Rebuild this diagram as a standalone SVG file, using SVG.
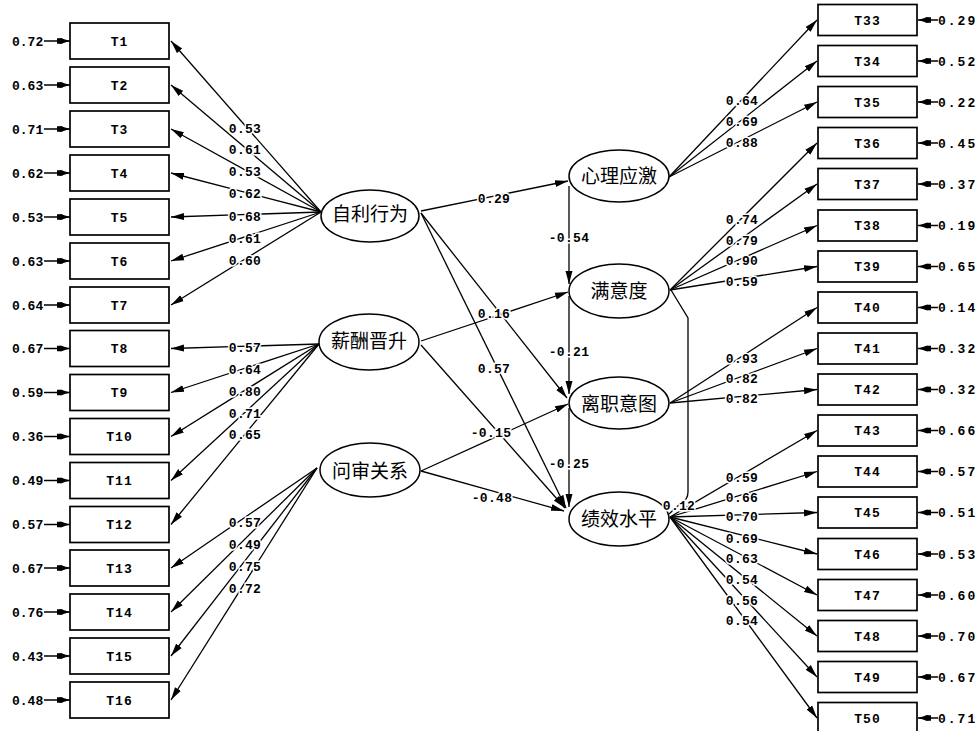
<svg xmlns="http://www.w3.org/2000/svg" width="979" height="731" viewBox="0 0 979 731">
<style>
.bx{fill:#fff;stroke:#000;stroke-width:1.7}
.el{fill:#fff;stroke:#000;stroke-width:1.5}
.t{font-family:"Liberation Mono",monospace;font-weight:bold;font-size:13px;fill:#000}
.bt{text-anchor:middle;letter-spacing:1px}
.er2{letter-spacing:2px}
.lab{text-anchor:middle;stroke:#fff;stroke-width:3;paint-order:stroke;letter-spacing:0.3px}
.cn{font-family:"Noto Sans CJK SC","Noto Sans CJK JP",sans-serif;font-size:19px;text-anchor:middle;fill:#000}
.ln{stroke:#000;stroke-width:1.3;fill:none}
.ar{marker-end:url(#ah)}
.ea{stroke:#000;stroke-width:1.5;fill:none;marker-end:url(#eh)}
</style>
<defs>
<marker id="ah" markerWidth="14" markerHeight="9" refX="13" refY="4.5" orient="auto" markerUnits="userSpaceOnUse"><path d="M0,1 L13,4.5 L0,8 z" fill="#000"/></marker>
<marker id="eh" markerWidth="14" markerHeight="8" refX="13" refY="4" orient="auto" markerUnits="userSpaceOnUse"><path d="M0,1.2 L4,1.2 L13,4 L4,6.8 L0,6.8 z" fill="#000"/><circle cx="4" cy="4" r="2.8" fill="#000"/></marker>
</defs>
<g id="connectors">
<!-- left error arrows -->
<path class="ea" d="M44,41H70"/><path class="ea" d="M44,85H70"/><path class="ea" d="M44,129H70"/><path class="ea" d="M44,173H70"/>
<path class="ea" d="M44,217H70"/><path class="ea" d="M44,261H70"/><path class="ea" d="M44,305H70"/><path class="ea" d="M44,348.5H70"/>
<path class="ea" d="M44,392.5H70"/><path class="ea" d="M44,436.5H70"/><path class="ea" d="M44,480.5H70"/><path class="ea" d="M44,524.5H70"/>
<path class="ea" d="M44,568H70"/><path class="ea" d="M44,612H70"/><path class="ea" d="M44,656H70"/><path class="ea" d="M44,700H70"/>
<!-- right error arrows -->
<path class="ea" d="M938,20H918"/><path class="ea" d="M938,61H918"/><path class="ea" d="M938,102H918"/><path class="ea" d="M938,143H918"/>
<path class="ea" d="M938,184H918"/><path class="ea" d="M938,225.5H918"/><path class="ea" d="M938,266.5H918"/><path class="ea" d="M938,307.5H918"/>
<path class="ea" d="M938,348.5H918"/><path class="ea" d="M938,389.5H918"/><path class="ea" d="M938,430.5H918"/><path class="ea" d="M938,471.5H918"/>
<path class="ea" d="M938,512.5H918"/><path class="ea" d="M938,554H918"/><path class="ea" d="M938,595H918"/><path class="ea" d="M938,636H918"/>
<path class="ea" d="M938,677H918"/><path class="ea" d="M938,718H918"/>
<!-- 自利行为 loadings -->
<path class="ln ar" d="M321,212L171,41"/>
<path class="ln ar" d="M321,212L171,85"/>
<path class="ln ar" d="M321,212L171,129"/>
<path class="ln ar" d="M321,212L171,173"/>
<path class="ln ar" d="M321,212L171,217"/>
<path class="ln ar" d="M321,212L171,261"/>
<path class="ln ar" d="M321,212L171,305"/>
<!-- 薪酬晋升 loadings -->
<path class="ln ar" d="M319,344L171,348.5"/>
<path class="ln ar" d="M319,344L171,392.5"/>
<path class="ln ar" d="M319,344L171,436.5"/>
<path class="ln ar" d="M319,344L171,480.5"/>
<path class="ln ar" d="M319,344L171,524.5"/>
<!-- 问审关系 loadings -->
<path class="ln ar" d="M317,468L171,568"/>
<path class="ln ar" d="M317,468L171,612"/>
<path class="ln ar" d="M317,468L171,656"/>
<path class="ln ar" d="M317,468L171,700"/>
<!-- 心理应激 loadings -->
<path class="ln ar" d="M669,177L817,20"/>
<path class="ln ar" d="M669,177L817,61"/>
<path class="ln ar" d="M669,177L817,102"/>
<!-- 满意度 loadings -->
<path class="ln ar" d="M670,290L817,143"/>
<path class="ln ar" d="M670,290L817,184"/>
<path class="ln ar" d="M670,290L817,225.5"/>
<path class="ln ar" d="M670,290L817,266.5"/>
<!-- 离职意图 loadings -->
<path class="ln ar" d="M670,403L817,307.5"/>
<path class="ln ar" d="M670,403L817,348.5"/>
<path class="ln ar" d="M670,403L817,389.5"/>
<!-- 绩效水平 loadings -->
<path class="ln ar" d="M670,517L817,430.5"/>
<path class="ln ar" d="M670,517L817,471.5"/>
<path class="ln ar" d="M670,517L817,512.5"/>
<path class="ln ar" d="M670,517L817,554"/>
<path class="ln ar" d="M670,517L817,595"/>
<path class="ln ar" d="M670,517L817,636"/>
<path class="ln ar" d="M670,517L817,677"/>
<path class="ln ar" d="M670,517L817,718"/>
<!-- structural paths -->
<path class="ln ar" d="M421,211L568,181"/>
<path class="ln ar" d="M421,341L568,292"/>
<path class="ln ar" d="M421,213L567,398"/>
<path class="ln ar" d="M421,213L566,508"/>
<path class="ln ar" d="M421,345L565,508"/>
<path class="ln ar" d="M421,471L568,404"/>
<path class="ln ar" d="M421,471L564,511"/>
<path class="ln ar" d="M569,186V284"/>
<path class="ln ar" d="M569,296V394"/>
<path class="ln ar" d="M569,408V507"/>
<!-- correlation -->
<path class="ln" d="M671,290L688,318V492Q688,500 681,503L669,514"/>
</g>
<g id="left-indicators">
<g id="T1"><rect class="bx" x="70" y="23" width="99" height="36"/><text class="t bt" x="119.5" y="45.5">T1</text><text class="t" x="12" y="45.5">0.72</text></g>
<g id="T2"><rect class="bx" x="70" y="67" width="99" height="36"/><text class="t bt" x="119.5" y="89.5">T2</text><text class="t" x="12" y="89.5">0.63</text></g>
<g id="T3"><rect class="bx" x="70" y="111" width="99" height="36"/><text class="t bt" x="119.5" y="133.5">T3</text><text class="t" x="12" y="133.5">0.71</text></g>
<g id="T4"><rect class="bx" x="70" y="155" width="99" height="36"/><text class="t bt" x="119.5" y="177.5">T4</text><text class="t" x="12" y="177.5">0.62</text></g>
<g id="T5"><rect class="bx" x="70" y="199" width="99" height="36"/><text class="t bt" x="119.5" y="221.5">T5</text><text class="t" x="12" y="221.5">0.53</text></g>
<g id="T6"><rect class="bx" x="70" y="243" width="99" height="36"/><text class="t bt" x="119.5" y="265.5">T6</text><text class="t" x="12" y="265.5">0.63</text></g>
<g id="T7"><rect class="bx" x="70" y="287" width="99" height="36"/><text class="t bt" x="119.5" y="309.5">T7</text><text class="t" x="12" y="309.5">0.64</text></g>
<g id="T8"><rect class="bx" x="70" y="330.5" width="99" height="36"/><text class="t bt" x="119.5" y="353">T8</text><text class="t" x="12" y="353">0.67</text></g>
<g id="T9"><rect class="bx" x="70" y="374.5" width="99" height="36"/><text class="t bt" x="119.5" y="397">T9</text><text class="t" x="12" y="397">0.59</text></g>
<g id="T10"><rect class="bx" x="70" y="418.5" width="99" height="36"/><text class="t bt" x="119.5" y="441">T10</text><text class="t" x="12" y="441">0.36</text></g>
<g id="T11"><rect class="bx" x="70" y="462.5" width="99" height="36"/><text class="t bt" x="119.5" y="485">T11</text><text class="t" x="12" y="485">0.49</text></g>
<g id="T12"><rect class="bx" x="70" y="506.5" width="99" height="36"/><text class="t bt" x="119.5" y="529">T12</text><text class="t" x="12" y="529">0.57</text></g>
<g id="T13"><rect class="bx" x="70" y="550" width="99" height="36"/><text class="t bt" x="119.5" y="572.5">T13</text><text class="t" x="12" y="572.5">0.67</text></g>
<g id="T14"><rect class="bx" x="70" y="594" width="99" height="36"/><text class="t bt" x="119.5" y="616.5">T14</text><text class="t" x="12" y="616.5">0.76</text></g>
<g id="T15"><rect class="bx" x="70" y="638" width="99" height="36"/><text class="t bt" x="119.5" y="660.5">T15</text><text class="t" x="12" y="660.5">0.43</text></g>
<g id="T16"><rect class="bx" x="70" y="682" width="99" height="36"/><text class="t bt" x="119.5" y="704.5">T16</text><text class="t" x="12" y="704.5">0.48</text></g>
</g>
<g id="right-indicators">
<g id="T33"><rect class="bx" x="818" y="4.5" width="99" height="31"/><text class="t bt" x="867.5" y="24.5">T33</text><text class="t er2" x="938" y="24.5">0.29</text></g>
<g id="T34"><rect class="bx" x="818" y="45.5" width="99" height="31"/><text class="t bt" x="867.5" y="65.5">T34</text><text class="t er2" x="938" y="65.5">0.52</text></g>
<g id="T35"><rect class="bx" x="818" y="86.5" width="99" height="31"/><text class="t bt" x="867.5" y="106.5">T35</text><text class="t er2" x="938" y="106.5">0.22</text></g>
<g id="T36"><rect class="bx" x="818" y="127.5" width="99" height="31"/><text class="t bt" x="867.5" y="147.5">T36</text><text class="t er2" x="938" y="147.5">0.45</text></g>
<g id="T37"><rect class="bx" x="818" y="168.5" width="99" height="31"/><text class="t bt" x="867.5" y="188.5">T37</text><text class="t er2" x="938" y="188.5">0.37</text></g>
<g id="T38"><rect class="bx" x="818" y="210" width="99" height="31"/><text class="t bt" x="867.5" y="230">T38</text><text class="t er2" x="938" y="230">0.19</text></g>
<g id="T39"><rect class="bx" x="818" y="251" width="99" height="31"/><text class="t bt" x="867.5" y="271">T39</text><text class="t er2" x="938" y="271">0.65</text></g>
<g id="T40"><rect class="bx" x="818" y="292" width="99" height="31"/><text class="t bt" x="867.5" y="312">T40</text><text class="t er2" x="938" y="312">0.14</text></g>
<g id="T41"><rect class="bx" x="818" y="333" width="99" height="31"/><text class="t bt" x="867.5" y="353">T41</text><text class="t er2" x="938" y="353">0.32</text></g>
<g id="T42"><rect class="bx" x="818" y="374" width="99" height="31"/><text class="t bt" x="867.5" y="394">T42</text><text class="t er2" x="938" y="394">0.32</text></g>
<g id="T43"><rect class="bx" x="818" y="415" width="99" height="31"/><text class="t bt" x="867.5" y="435">T43</text><text class="t er2" x="938" y="435">0.66</text></g>
<g id="T44"><rect class="bx" x="818" y="456" width="99" height="31"/><text class="t bt" x="867.5" y="476">T44</text><text class="t er2" x="938" y="476">0.57</text></g>
<g id="T45"><rect class="bx" x="818" y="497" width="99" height="31"/><text class="t bt" x="867.5" y="517">T45</text><text class="t er2" x="938" y="517">0.51</text></g>
<g id="T46"><rect class="bx" x="818" y="538.5" width="99" height="31"/><text class="t bt" x="867.5" y="558.5">T46</text><text class="t er2" x="938" y="558.5">0.53</text></g>
<g id="T47"><rect class="bx" x="818" y="579.5" width="99" height="31"/><text class="t bt" x="867.5" y="599.5">T47</text><text class="t er2" x="938" y="599.5">0.60</text></g>
<g id="T48"><rect class="bx" x="818" y="620.5" width="99" height="31"/><text class="t bt" x="867.5" y="640.5">T48</text><text class="t er2" x="938" y="640.5">0.70</text></g>
<g id="T49"><rect class="bx" x="818" y="661.5" width="99" height="31"/><text class="t bt" x="867.5" y="681.5">T49</text><text class="t er2" x="938" y="681.5">0.67</text></g>
<g id="T50"><rect class="bx" x="818" y="702.5" width="99" height="31"/><text class="t bt" x="867.5" y="722.5">T50</text><text class="t er2" x="938" y="722.5">0.71</text></g>
</g>
<g id="latents">
<g id="zili"><ellipse class="el" cx="370" cy="216" rx="49" ry="26"/><text class="cn" x="370" y="220.5">自利行为</text></g>
<g id="xinchou"><ellipse class="el" cx="369" cy="342" rx="50" ry="28"/><text class="cn" x="369" y="347.5">薪酬晋升</text></g>
<g id="wenshen"><ellipse class="el" cx="370" cy="470" rx="50" ry="27"/><text class="cn" x="370" y="478">问审关系</text></g>
<g id="xinli"><ellipse class="el" cx="619" cy="176" rx="50" ry="26"/><text class="cn" x="619" y="183">心理应激</text></g>
<g id="manyi"><ellipse class="el" cx="619" cy="291" rx="50" ry="27"/><text class="cn" x="619" y="297.5">满意度</text></g>
<g id="lizhi"><ellipse class="el" cx="619" cy="403" rx="50" ry="26"/><text class="cn" x="619" y="411">离职意图</text></g>
<g id="jixiao"><ellipse class="el" cx="619" cy="519" rx="50" ry="27"/><text class="cn" x="619" y="526">绩效水平</text></g>
</g>
<g id="labels">
<text class="t lab" x="245" y="132.5">0.53</text>
<text class="t lab" x="245" y="154">0.61</text>
<text class="t lab" x="245" y="176">0.53</text>
<text class="t lab" x="245" y="198">0.62</text>
<text class="t lab" x="245" y="220.5">0.68</text>
<text class="t lab" x="245" y="242.5">0.61</text>
<text class="t lab" x="245" y="265">0.60</text>
<text class="t lab" x="245" y="351.5">0.57</text>
<text class="t lab" x="245" y="374">0.64</text>
<text class="t lab" x="245" y="396">0.80</text>
<text class="t lab" x="245" y="417.5">0.71</text>
<text class="t lab" x="245" y="439">0.65</text>
<text class="t lab" x="245" y="526.5">0.57</text>
<text class="t lab" x="245" y="549">0.49</text>
<text class="t lab" x="245" y="571">0.75</text>
<text class="t lab" x="245" y="592.5">0.72</text>
<text class="t lab" x="742" y="104.5">0.64</text>
<text class="t lab" x="742" y="126">0.69</text>
<text class="t lab" x="742" y="146.5">0.88</text>
<text class="t lab" x="742" y="224">0.74</text>
<text class="t lab" x="742" y="244.5">0.79</text>
<text class="t lab" x="742" y="264.5">0.90</text>
<text class="t lab" x="742" y="285.5">0.59</text>
<text class="t lab" x="742" y="362.5">0.93</text>
<text class="t lab" x="742" y="382.5">0.82</text>
<text class="t lab" x="742" y="402.5">0.82</text>
<text class="t lab" x="742" y="481.5">0.59</text>
<text class="t lab" x="742" y="501.5">0.66</text>
<text class="t lab" x="742" y="521">0.70</text>
<text class="t lab" x="742" y="542.5">0.69</text>
<text class="t lab" x="742" y="563">0.63</text>
<text class="t lab" x="742" y="584">0.54</text>
<text class="t lab" x="742" y="605">0.56</text>
<text class="t lab" x="742" y="625">0.54</text>
<text class="t lab" x="494" y="202.5">0.29</text>
<text class="t lab" x="569" y="241.5">-0.54</text>
<text class="t lab" x="494" y="317.5">0.16</text>
<text class="t lab" x="569" y="355.5">-0.21</text>
<text class="t lab" x="494" y="372.5">0.57</text>
<text class="t lab" x="491" y="436.5">-0.15</text>
<text class="t lab" x="569" y="467.5">-0.25</text>
<text class="t lab" x="492" y="501.5">-0.48</text>
<text class="t lab" x="679" y="510">0.12</text>
</g>
</svg>
